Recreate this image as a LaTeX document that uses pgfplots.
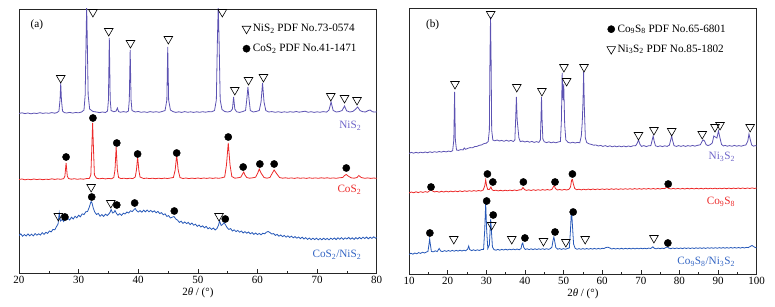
\documentclass[border=0pt]{standalone}
\usepackage{pgfplots}
\pgfplotsset{compat=1.18}
\usepackage{fontspec}
\setmainfont{Liberation Serif}
\definecolor{cpurple}{RGB}{92,82,178}
\definecolor{cred}{RGB}{236,42,42}
\definecolor{cblue}{RGB}{38,88,184}
\definecolor{cpurpletxt}{RGB}{110,100,200}
\definecolor{cbluetxt}{RGB}{50,100,195}
\pgfplotsset{
  xrdaxis/.style={
    scale only axis, y dir=reverse, ytick=\empty,
    axis line style={line width=0.7pt, black!85},
    tick align=inside, xtick pos=left,
    major tick length=4pt, minor tick length=2.5pt,
    minor x tick num=1,
    tick style={line width=0.6pt, black!85},
    /pgf/number format/assume math mode=true,
    tick label style={font=\fontsize{11}{12}\selectfont},
    label style={font=\fontsize{11}{12}\selectfont},
    xlabel={2\textit{θ} / (°)},
    xlabel style={yshift=3pt},
    legend cell align=left,
    legend style={draw=none, fill=none, font=\fontsize{11.2}{13}\selectfont, row sep=7pt, anchor=north west},
    clip=true,
  },
  tri/.style={only marks, mark=triangle, mark size=5pt, mark options={rotate=180, fill=white, draw=black, line width=0.6pt}},
  dot/.style={only marks, mark=*, mark size=3.6pt, mark options={fill=black, draw=black}},
}
\begin{document}
\begin{tikzpicture}
\useasboundingbox (0,0) rectangle (775pt,307pt);
% ---------------- Panel (a) ----------------
\begin{axis}[xrdaxis, at={(19pt,34pt)}, anchor=south west,
  width=357.7pt, height=264pt, xmin=20, xmax=80, ymin=9, ymax=273,
  xtick={20,30,...,80},
  legend style={at={(axis description cs:0.615,0.958)}}]
\addlegendimage{tri}\addlegendentry{NiS\textsubscript{2} PDF No.73-0574}
\addlegendimage{dot}\addlegendentry{CoS\textsubscript{2} PDF No.41-1471}
% NiS2
\addplot[color=cpurple, line width=0.8pt, forget plot] coordinates {
(20,113.5)(20.5,112.8)(21,113.6)(21.5,113)(22,113.8)(22.5,113.1)(23,113.5)(23.5,112.7)(24,113.4)(24.5,112.9)(25,113.3)(25.5,112.6)(26,113.2)(26.4,112.5)(26.7,111)(26.88,100)(27.0,83)(27.12,100)(27.3,111)(27.6,112.6)(28,113)(28.5,112.4)(29,113.1)(29.5,112.5)(30,112.8)(30.5,112)(30.9,110)(31.1,95)(31.25,40)(31.35,5)(31.45,40)(31.6,95)(31.85,109)(32.4,111.5)(33,112)(33.5,112.6)(34,112)(34.5,112.5)(34.85,111)(35.0,100)(35.15,38)(35.3,100)(35.45,110.5)(35.9,111.8)(36.3,111)(36.5,108)(36.7,111.5)(37,112.3)(37.5,111.6)(38,112.2)(38.35,111)(38.5,100)(38.65,50)(38.8,100)(38.95,110.5)(39.5,112)(40,111.5)(40.5,112.3)(41,111.8)(41.5,112.4)(42,111.6)(42.5,112.2)(43,111.7)(43.5,112.3)(44,111.5)(44.5,110.5)(44.8,100)(44.95,47)(45.1,100)(45.4,110)(45.8,111.5)(46.3,112.4)(46.8,111.8)(47.3,112.4)(47.8,111.6)(48.3,112.3)(48.8,111.8)(49.3,112.4)(49.8,111.8)(50.3,112.3)(50.8,111.7)(51.3,112.2)(51.8,111.6)(52.3,111.8)(52.8,110.5)(53.1,100)(53.28,40)(53.42,5)(53.56,40)(53.75,100)(54.05,109.5)(54.5,111.5)(55,112)(55.5,111.3)(55.8,109)(56.0,97)(56.2,109)(56.5,111.8)(57,112.4)(57.5,111.6)(58.0,110.5)(58.2,100)(58.4,87)(58.6,100)(58.8,110.5)(59.3,112)(59.8,111.4)(60.3,110.5)(60.6,102)(60.85,83)(61.1,102)(61.4,110.5)(61.9,112)(62.4,111.6)(63,112.3)(63.5,111.7)(64,112.4)(64.5,111.8)(65,112.3)(65.5,111.7)(66,112.2)(66.5,111.5)(67,112.2)(67.5,111.7)(68,111.2)(68.5,112.3)(69,111.7)(69.5,112.4)(70,111.8)(70.5,112.3)(71,111.6)(71.6,112.1)(72.0,110)(72.35,102)(72.7,110.5)(73.2,112)(73.7,111.6)(74.2,110.5)(74.6,106)(74.95,110.8)(75.5,112)(76,111.4)(76.4,109.5)(76.8,107)(77.2,110.5)(77.6,111.6)(78.1,112)(78.6,110.5)(78.9,110)(79.3,111.8)(79.7,112)(80,111.8)};
% CoS2
\addplot[color=cred, line width=0.8pt, forget plot] coordinates {
(20,179.5)(20.5,179)(21,179.8)(21.5,179.2)(22,179.7)(22.5,179)(23,179.6)(23.5,179.1)(24,179.7)(24.5,179.2)(25,179.5)(25.5,178.8)(26,179.4)(26.5,178.9)(27,179.3)(27.5,178.6)(27.7,176)(27.9,163)(28.1,176)(28.3,178.5)(28.8,179.2)(29.3,178.7)(29.8,179.3)(30.3,178.8)(30.8,179.2)(31.3,178.6)(31.8,178.4)(32.05,175)(32.2,150)(32.35,123)(32.5,150)(32.65,175)(33,178.2)(33.5,178.8)(34,178.3)(34.5,178.9)(35,178.4)(35.5,178.8)(35.9,177.5)(36.1,170)(36.3,147)(36.5,170)(36.7,177.5)(37.1,178.6)(37.6,178.2)(38.1,178.7)(38.6,178.2)(39.1,178.6)(39.5,177)(39.7,170)(39.9,157)(40.1,170)(40.3,177)(40.9,178.5)(41.4,178.1)(41.9,178.6)(42.4,178.2)(42.9,178.7)(43.4,178.2)(43.9,178.6)(44.4,178.1)(44.9,178.5)(45.4,178)(45.9,177.5)(46.2,170)(46.45,155)(46.7,170)(47,177.5)(47.5,178.5)(48,178)(48.5,178.6)(49,178.1)(49.5,178.5)(50,178)(50.5,178.5)(51,178)(51.5,178.4)(52,177.9)(52.5,178.4)(53,177.9)(53.5,178.3)(54,177.8)(54.5,177)(54.8,165)(55.1,143)(55.4,165)(55.7,176.5)(56.2,178.2)(56.7,177.8)(57.2,177.2)(57.5,174)(57.7,172)(57.9,175)(58.2,177.5)(58.7,178.2)(59.2,177.8)(59.7,177.2)(60.05,173)(60.3,169)(60.6,173)(61.1,177.5)(61.6,178.2)(62.1,177.4)(62.5,173)(62.8,170)(63.2,173.5)(63.7,177.5)(64.2,178.2)(64.7,177.8)(65.2,178.3)(65.7,177.9)(66.2,178.4)(66.7,177.8)(67.2,178.3)(67.7,177.9)(68.2,178.4)(68.7,177.8)(69.2,178.3)(69.7,177.9)(70.2,178.3)(70.7,177.8)(71.2,178.2)(71.7,177.8)(72.2,178.3)(72.7,177.9)(73.2,178.3)(73.7,177.8)(74.3,177.5)(74.6,175.5)(74.9,174.5)(75.2,176)(75.7,177.8)(76.2,178.2)(76.7,177.5)(77.0,175.5)(77.4,177.5)(78,178.3)(78.5,177.9)(79,178.4)(79.5,178)(80,178.4)};
% CoS2/NiS2
\addplot[color=cblue, line width=0.8pt, forget plot] coordinates {
(20,235.5)(20.3,233.8)(20.6,236.2)(20.9,234.6)(21.2,236)(21.5,233.9)(21.8,235.8)(22.1,234.2)(22.4,235.9)(22.7,233.6)(23,235.2)(23.3,233.8)(23.6,235)(23.9,232.6)(24.2,234.4)(24.5,232.3)(24.8,233.4)(25.1,231)(25.4,231.9)(25.7,229.4)(26,229.8)(26.3,226.5)(26.55,224)(26.75,213)(26.95,221)(27.25,219.5)(27.5,221.5)(27.7,217)(27.9,220)(28.2,218.4)(28.5,220)(28.8,217.2)(29.1,219)(29.4,216.3)(29.7,217.8)(30,215.2)(30.3,216.8)(30.6,213.8)(30.9,214.6)(31.2,211.8)(31.5,211.5)(31.8,207)(32.0,203)(32.1,201.5)(32.25,203)(32.45,208)(32.7,212)(33.0,214.5)(33.3,213.4)(33.6,216.2)(33.9,214.6)(34.2,216.4)(34.5,214.2)(34.8,215.5)(35.1,213.8)(35.3,212)(35.45,209.5)(35.7,213)(35.9,212.5)(36.1,210.5)(36.35,213.5)(36.6,215.2)(36.9,213.6)(37.2,215.4)(37.5,213.2)(37.8,214)(38.1,212)(38.4,213)(38.7,210.8)(39.0,211.6)(39.3,209.5)(39.5,208.5)(39.7,210.5)(40,212)(40.3,210.6)(40.6,212.2)(40.9,210.2)(41.2,211.8)(41.5,210)(41.8,211.8)(42.1,210.4)(42.4,212)(42.7,210.8)(43,212.8)(43.3,211.4)(43.6,213.6)(43.9,212.6)(44.2,214.8)(44.5,213.8)(44.8,216.4)(45.1,215.6)(45.4,218)(45.7,217.2)(46.0,216.5)(46.3,219)(46.6,220.2)(46.9,222.4)(47.2,221.2)(47.5,223.4)(47.8,222)(48.1,223.6)(48.4,222.4)(48.7,224.6)(49,223)(49.3,225.2)(49.6,224.2)(49.9,226.4)(50.2,225)(50.5,227)(50.8,225.8)(51.1,227.8)(51.4,226.4)(51.7,228.8)(52,227.6)(52.3,229.4)(52.6,228)(52.9,230)(53.2,228.5)(53.45,225.5)(53.65,221)(53.9,225.5)(54.15,224.5)(54.4,222.5)(54.65,225)(54.9,227.5)(55.2,229.5)(55.5,228.6)(55.8,231)(56.1,229.8)(56.4,231.6)(56.7,230.4)(57,232.2)(57.3,231)(57.6,233)(57.9,231.6)(58.2,233.2)(58.5,232)(58.8,233.8)(59.1,232.6)(59.4,234.4)(59.7,233)(60,234.6)(60.3,233.4)(60.6,234.8)(60.9,233.2)(61.2,233.8)(61.5,232.2)(61.8,231.5)(62.1,232.6)(62.4,234)(62.7,233.6)(63,235.4)(63.3,234.4)(63.6,236.2)(63.9,235)(64.2,236.6)(64.5,235.4)(64.8,237.2)(65.1,235.8)(65.4,237.4)(65.7,236.2)(66,237.8)(66.3,236.6)(66.6,238.2)(66.9,237)(67.2,238.6)(67.5,237.2)(67.8,239)(68.1,237.6)(68.4,239.4)(68.7,238)(69,239.6)(69.3,238.2)(69.6,239.6)(69.9,238.2)(70.2,239.8)(70.5,238.4)(70.8,239.8)(71.1,238.2)(71.4,239.6)(71.7,238.4)(72,239.8)(72.3,238.2)(72.6,239.4)(72.9,238)(73.2,239.6)(73.5,237.8)(73.8,239.2)(74.1,237.6)(74.4,239.4)(74.7,237.8)(75,239)(75.3,237.4)(75.6,239.2)(75.9,237.8)(76.2,239.4)(76.5,237.6)(76.8,239)(77.1,237.4)(77.4,238.8)(77.7,237.2)(78,238.6)(78.3,237)(78.6,238.8)(78.9,237.2)(79.2,238.4)(79.5,236.8)(79.8,238.2)(80,237.4)};
% markers
\addplot[tri, forget plot] coordinates {(27.0,78)(32.4,12)(35.05,31)(38.7,43)(45.05,39)(54.1,12)(56.2,90)(58.5,80)(61.0,77)(72.3,96)(74.6,98)(76.7,100)
 (26.6,216)(32.1,187)(35.4,203)(53.55,216)};
\addplot[dot, forget plot] coordinates {(32.4,118)(36.4,143)(27.9,157)(39.9,154)(46.45,153)(55.1,137)(57.6,167)(60.4,164)(62.8,164)(74.9,168)
 (27.7,217)(32.2,197)(36.4,205)(39.4,203)(46.05,211)(54.6,219)};
\node[anchor=center, font=\fontsize{11.2}{13}\selectfont] at (axis cs:23.0,25) {(a)};
\node[anchor=east, text=cpurpletxt, font=\fontsize{11.2}{13}\selectfont] at (axis cs:78.0,126) {NiS\textsubscript{2}};
\node[anchor=east, text=cred, font=\fontsize{11.2}{13}\selectfont] at (axis cs:78.0,190) {CoS\textsubscript{2}};
\node[anchor=east, text=cbluetxt, font=\fontsize{11.2}{13}\selectfont] at (axis cs:78.0,255) {CoS\textsubscript{2}/NiS\textsubscript{2}};
\end{axis}
% ---------------- Panel (b) ----------------
\begin{axis}[xrdaxis, at={(409pt,33pt)}, anchor=south west,
  width=347.7pt, height=266pt, xmin=10, xmax=100, ymin=8, ymax=274,
  xtick={10,20,...,100},
  legend style={at={(axis description cs:0.56,0.953)}}]
\addlegendimage{dot}\addlegendentry{Co\textsubscript{9}S\textsubscript{8} PDF No.65-6801}
\addlegendimage{tri}\addlegendentry{Ni\textsubscript{3}S\textsubscript{2} PDF No.85-1802}
% Ni3S2
\addplot[color=cpurple, line width=0.8pt, forget plot] coordinates {
(10,153.5)(10.6,152.4)(11.2,153.2)(11.8,152.3)(12.4,153)(13,152.2)(13.6,152.8)(14.2,152)(14.8,152.7)(15.4,151.8)(16,152.5)(16.6,151.7)(17.2,152.3)(17.8,151.5)(18.4,152.1)(19,151.3)(19.6,151.9)(20.2,151.1)(20.8,151.6)(21.3,150.6)(21.6,140)(21.8,92)(22.0,140)(22.3,150)(22.8,150.4)(23.4,149.6)(24,149.9)(24.3,148)(24.6,149.3)(25.2,148.4)(25.8,147.6)(26.4,147.8)(27,146.6)(27.6,146.4)(28.2,145.3)(28.8,144.9)(29.4,143.6)(30,143.2)(30.5,141.5)(30.8,130)(30.95,60)(31.1,17)(31.25,60)(31.4,130)(31.7,140)(32.2,140.8)(32.8,140)(33.4,141)(34,140.4)(34.6,141.3)(35.2,140.2)(35.8,141.2)(36.4,140.4)(37,141.5)(37.4,140)(37.6,120)(37.8,97)(38.0,120)(38.2,128)(38.45,138)(38.8,141.6)(39.4,141)(40,142)(40.6,141.2)(41.2,142.2)(41.8,141.4)(42.4,142.4)(43,141.6)(43.6,142.4)(44,140)(44.15,120)(44.3,97)(44.45,120)(44.65,139)(45,141.8)(45.6,142.6)(46.2,141.8)(46.8,142.8)(47.4,142)(48,142.8)(48.6,142)(49.2,141.5)(49.45,120)(49.65,73)(49.85,100)(50.05,84)(50.3,125)(50.6,140)(51.2,142.4)(51.8,143)(52.4,142.2)(53,143)(53.6,142.4)(54.2,142.8)(54.6,136)(54.85,122)(55.05,100)(55.2,72)(55.4,110)(55.65,138)(56,142.6)(56.6,143.8)(57.2,144.4)(57.8,145.2)(58.4,145)(59,146)(59.6,145.4)(60.2,146.4)(60.8,145.6)(61.4,146.6)(62,145.8)(62.6,146.8)(63.2,146)(63.8,146.8)(64.4,146)(65,146.8)(65.6,146)(66.2,146.8)(66.8,146)(67.4,146.6)(68,145.8)(68.7,145.6)(69.1,143)(69.4,140)(69.8,144.5)(70.2,146.4)(70.8,145.6)(71.4,146.6)(72,145.8)(72.6,145.6)(72.95,140)(73.2,136)(73.45,141)(73.8,145.8)(74.4,146.6)(75,145.8)(75.6,146.6)(76.2,145.8)(76.8,146.4)(77.4,145.2)(77.8,139)(78.0,136)(78.2,140)(78.6,145.6)(79.2,146.4)(79.8,145.6)(80.4,146.4)(81,145.6)(81.6,146.4)(82.2,145.6)(82.8,146.2)(83.4,145.4)(84,146.2)(84.6,145.4)(85.4,144.8)(85.9,141)(86.2,140)(86.5,141)(86.9,144.6)(87.4,145.6)(88,144.6)(88.5,143)(88.9,136)(89.3,137)(89.7,138)(90.1,131)(90.5,138)(90.9,144.5)(91.4,146)(91.8,145.4)(92.4,146.2)(93,145.6)(93.6,146.3)(94.2,145.4)(94.8,146.2)(95.4,145.6)(96,146.2)(96.6,145.4)(97.2,145)(97.7,141)(98.0,134)(98.3,139)(98.7,145)(99.2,146.2)(99.6,145.6)(100,146)};
% Co9S8
\addplot[color=cred, line width=0.8pt, forget plot] coordinates {
(10,193)(10.6,192)(11.2,192.8)(11.8,191.8)(12.4,192.6)(13,191.7)(13.6,192.4)(14.2,191.6)(14.8,192.3)(15.3,190.8)(15.7,189.5)(16.1,191)(16.6,191.9)(17.2,191.4)(17.8,192.2)(18.4,191.3)(19,192)(19.6,191.2)(20.2,191.9)(20.8,191.1)(21.4,191.8)(22,191)(22.6,191.7)(23.2,190.9)(23.8,191.6)(24.4,190.8)(25,191.4)(25.6,190.7)(26.2,191.3)(26.8,190.6)(27.4,191.2)(28,190.5)(28.6,191)(29.2,190)(29.6,186)(29.85,180)(30.1,186)(30.4,189.5)(30.8,189.5)(31.2,187)(31.5,189.8)(31.9,190.6)(32.5,190.2)(33.1,190.9)(33.7,190.3)(34.3,190.9)(34.9,190.2)(35.5,190.8)(36.1,190.1)(36.7,190.7)(37.3,190)(37.9,190.6)(38.5,189.9)(39.1,189.8)(39.5,187.5)(39.9,189.6)(40.4,190.4)(41,189.8)(41.6,190.5)(42.2,189.7)(42.8,190.4)(43.4,189.7)(44,190.3)(44.6,189.6)(45.2,190.2)(45.8,189.5)(46.4,190.1)(47,189.4)(47.4,186.5)(47.6,185.5)(47.9,188.5)(48.4,190)(49,189.5)(49.6,190.1)(50.2,189.4)(50.8,190)(51.4,189.3)(51.8,187)(52.1,180)(52.3,179.5)(52.55,184)(52.9,188.5)(53.4,189.8)(54,189.2)(54.6,189.9)(55.2,189.2)(55.8,189.8)(56.4,189.1)(57,189.7)(57.6,189)(58.2,189.6)(58.8,189)(59.4,189.6)(60,188.9)(60.6,189.5)(61.2,188.9)(61.8,189.5)(62.4,188.8)(63,189.4)(63.6,188.8)(64.2,189.4)(64.8,188.8)(65.4,189.3)(66,188.7)(66.6,189.3)(67.2,188.7)(67.8,189.3)(68.4,188.6)(69,189.2)(69.6,188.6)(70.2,189.2)(70.8,188.6)(71.4,189.1)(72,188.5)(72.6,189.1)(73.2,188.5)(73.8,189.1)(74.4,188.5)(75,189)(75.6,188.4)(76.2,188.6)(76.7,187.2)(77.2,188.4)(77.8,189)(78.4,188.4)(79,189)(79.6,188.4)(80.2,189)(80.8,188.4)(81.4,189)(82,188.3)(82.6,188.9)(83.2,188.3)(83.8,188.9)(84.4,188.3)(85,188.9)(85.6,188.3)(86.2,188.9)(86.8,188.2)(87.4,188.8)(88,188.2)(88.6,188.8)(89.2,188.2)(89.8,188.8)(90.4,188.2)(91,188.7)(91.6,188.1)(92.2,188.7)(92.8,188.1)(93.4,188.7)(94,188.1)(94.6,188.6)(95.2,188)(95.8,188.6)(96.4,188)(97,188.6)(97.6,188)(98.2,188.5)(98.8,187.9)(99.4,188.5)(100,188)};
% Co9S8/Ni3S2
\addplot[color=cblue, line width=0.8pt, forget plot] coordinates {
(10,254.5)(10.5,253.2)(11,254.2)(11.5,253)(12,253.8)(12.5,252.6)(13,253.4)(13.5,252.2)(14,253)(14.5,252)(14.9,251.5)(15.15,245)(15.35,239)(15.55,245)(15.8,251.5)(16.3,251.8)(16.8,250.8)(17.3,251.6)(17.8,248.5)(18.2,251)(18.7,251.6)(19.2,250.6)(19.7,251.4)(20.2,250.5)(20.7,251.3)(21.2,250.4)(21.7,251.2)(22.2,250.3)(22.7,251.1)(23.2,250.2)(23.7,251)(24.2,250.2)(24.7,250.8)(25.2,249)(25.45,246)(25.7,249.5)(26.2,250.6)(26.7,249.8)(27.2,250.6)(27.7,249.8)(28.2,250.5)(28.7,249.6)(29.3,249.5)(29.6,230)(29.85,203)(30.1,230)(30.4,248.5)(30.8,245)(31.0,230)(31.15,219)(31.35,232)(31.6,247)(32,249.6)(32.5,250.2)(33,249.4)(33.5,250.2)(34,249.4)(34.5,250)(35,249.2)(35.5,250)(36,249.2)(36.5,249.8)(37,249.1)(37.5,249.8)(38,249)(38.5,249.8)(39,248.5)(39.25,244)(39.45,243)(39.7,247.5)(40.1,249.5)(40.6,248.8)(41.1,249.6)(41.6,248.8)(42.1,249.6)(42.6,248.8)(43.1,249.5)(43.6,248.8)(44.1,249.4)(44.6,248.7)(45.1,249.4)(45.6,248.7)(46.1,249.4)(46.6,248.6)(47,247)(47.3,240)(47.5,237)(47.7,241)(48,247.5)(48.5,249.2)(49,248.6)(49.5,249.4)(50,248.6)(50.5,249.3)(51,248.5)(51.5,248)(51.8,230)(52.05,209)(52.3,225)(52.6,244)(53,248.3)(53.5,249.3)(54,248.6)(54.5,249.3)(55,248.6)(55.5,249.2)(56,248.5)(56.5,249.2)(57,248.5)(57.5,249.1)(58,248.4)(58.5,249.1)(59,248.4)(59.5,249)(60,248.3)(60.5,248.5)(61,247.5)(61.5,247.2)(62,248)(62.5,249)(63,248.4)(63.5,249)(64,248.4)(64.5,249)(65,248.3)(65.5,249)(66,248.3)(66.5,248.9)(67,248.3)(67.5,248.9)(68,248.2)(68.5,248.9)(69,248.2)(69.5,248.8)(70,248.2)(70.5,248.8)(71,248.2)(71.5,248.8)(72,248.1)(72.6,248.5)(73.1,246.8)(73.5,248.3)(74,248.8)(74.5,248.1)(75,248.7)(75.5,248.1)(76,248.6)(76.5,247.5)(76.9,247)(77.3,248.2)(77.8,248.7)(78.3,248)(78.8,248.6)(79.3,248)(79.8,248.6)(80.3,248)(80.8,248.6)(81.3,247.9)(81.8,248.5)(82.3,247.9)(82.8,248.5)(83.3,247.9)(83.8,248.5)(84.3,247.8)(84.8,248.4)(85.3,247.8)(85.8,248.4)(86.3,247.8)(86.8,248.4)(87.3,247.7)(87.8,248.3)(88.3,247.7)(88.8,248.3)(89.3,247.7)(89.8,248.3)(90.3,247.6)(90.8,248.2)(91.3,247.6)(91.8,248.2)(92.3,247.6)(92.8,248.2)(93.3,247.5)(93.8,248.1)(94.3,247.5)(94.8,248.1)(95.3,247.5)(95.8,248.1)(96.3,247.4)(96.8,248)(97.3,247.4)(97.8,247.6)(98.3,246.5)(98.8,245.5)(99.2,246.5)(99.6,247.5)(100,247.8)};
% markers
\addplot[tri, forget plot] coordinates {(21.9,84)(31.15,14)(37.9,87)(44.4,91)(50.1,67)(50.8,81)(55.3,67)(69.4,135)(73.4,130)(78.0,131)(85.9,134)(89.2,127)(90.5,125)(98.3,127)
 (21.6,239)(31.4,225)(36.6,239)(44.8,241)(50.6,242)(55.6,239)(73.4,238)};
\addplot[dot, forget plot] coordinates {(15.7,187)(30.3,174)(31.7,182)(39.6,182)(47.8,182)(52.3,174)(77.1,184)
 (15.4,233)(30.1,201)(31.8,215)(40.0,238)(47.8,232)(52.5,212)(77.0,243)};
\node[anchor=center, font=\fontsize{11.2}{13}\selectfont] at (axis cs:16.1,25) {(b)};
\node[anchor=east, text=cpurpletxt, font=\fontsize{11.2}{13}\selectfont] at (axis cs:95.3,157) {Ni\textsubscript{3}S\textsubscript{2}};
\node[anchor=east, text=cred, font=\fontsize{11.2}{13}\selectfont] at (axis cs:95.3,202) {Co\textsubscript{9}S\textsubscript{8}};
\node[anchor=east, text=cbluetxt, font=\fontsize{11.2}{13}\selectfont] at (axis cs:95.3,262) {Co\textsubscript{9}S\textsubscript{8}/Ni\textsubscript{3}S\textsubscript{2}};
\end{axis}
\end{tikzpicture}
\end{document}
